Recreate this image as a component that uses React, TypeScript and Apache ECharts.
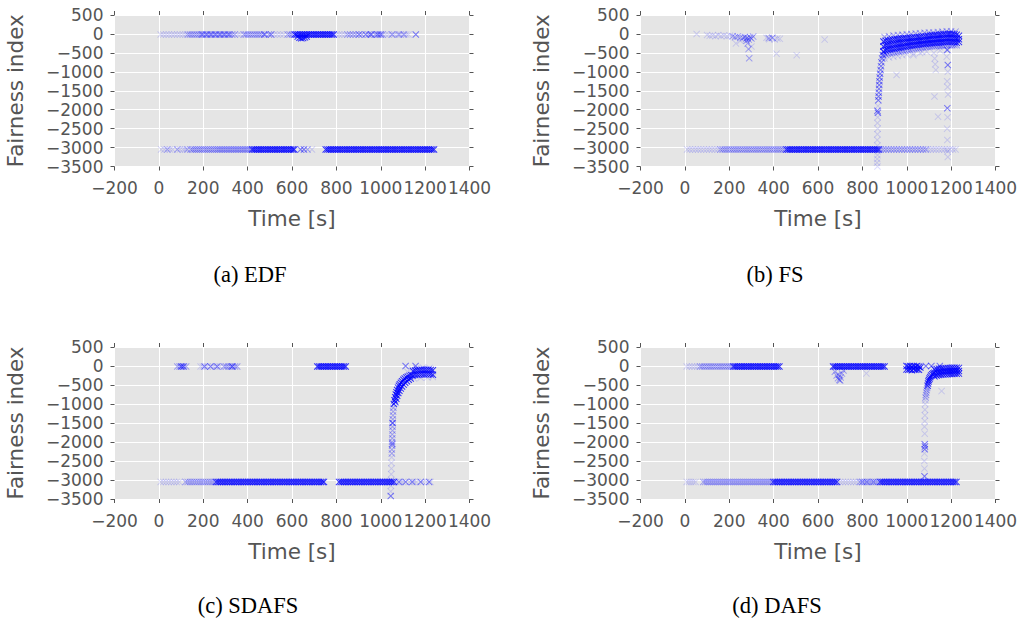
import React, { useEffect, useRef } from 'react';
import * as echarts from 'echarts';

const X_MIN = -200, X_MAX = 1400, X_STEP = 200;
const Y_MIN = -3500, Y_MAX = 500, Y_STEP = 500;
const CAPTIONS = ['(a) EDF', '(b) FS', '(c) SDAFS', '(d) DAFS'];
const X_NAME = 'Time [s]';
const Y_NAME = 'Fairness index';

const TOP = -15;
const BOT = -3050;

// ---------- (a) EDF ----------
const aTopLight = [8, 20, 33, 45, 58, 70, 83, 95, 108, 120, 356, 368, 520, 534, 548, 562, 800, 812, 825, 838, 1022, 1035, 1048, 1062, 1075, 1090, 1100, 1115, 1125];
const aTopMed = [130, 140, 150, 160, 170, 180, 190, 195, 200, 210, 215, 220, 230, 235, 240, 250, 255, 260, 270, 275, 280, 290, 295, 300, 310, 315, 320, 330, 342, 383, 392, 402, 412, 422, 432, 442, 452, 462, 480, 496, 580, 590, 600, 850, 862, 875, 888, 915, 945, 960, 975, 992, 1008, 1052, 1082, 1105];
const aTopMark = [474, 506, 902, 932, 955, 985, 1000, 1158];
const aTopDense = [612, 620, 628, 636, 644, 652, 660, 668, 676, 684, 692, 700, 708, 716, 724, 732, 740, 748, 756, 764, 772, 780, 788];
const aDip = [[626, -70], [634, -100], [642, -115], [650, -105], [658, -90], [666, -70]];
const aBotLight = [10, 25, 50, 62, 95, 108, 118, 690];
const aBotMed = [38, 83, 128, 143, 152, 161, 170, 179, 188, 197, 206, 215, 224, 233, 242, 251, 260, 268, 276, 284, 292, 300, 308, 316, 324, 332, 340, 348, 356, 364, 372, 380, 388, 396, 404, 412, 670];
const aBotMark = [639, 654];
const aBotDense = [420, 428, 436, 444, 452, 460, 468, 476, 484, 492, 500, 508, 516, 524, 532, 540, 548, 556, 564, 572, 580, 588, 596, 604, 610,
  752, 760, 768, 776, 784, 792, 800, 808, 816, 824, 832, 840, 848, 856, 864, 872, 880, 888, 896, 904, 912, 920, 928, 936, 944, 952, 960, 968, 976, 984, 992, 1000, 1008, 1016, 1024, 1032, 1040, 1048, 1056, 1064, 1072, 1080, 1088, 1096, 1104, 1112, 1120, 1128, 1136, 1144, 1152, 1160, 1168, 1176, 1184, 1192, 1200, 1208, 1216, 1224, 1232, 1240];

// ---------- (b) FS ----------
const bTopLight = [[53, 0], [100, -30], [112, -50], [125, -40], [138, -60], [150, -30], [163, -55], [176, -40], [190, -60], [203, -45], [230, -250], [250, -180], [300, -330], [368, -100], [380, -140], [392, -110], [405, -150], [417, -120], [428, -130], [413, -520], [504, -560], [630, -150], [954, -1084], [1141, -2184], [1030, -560], [1070, -480]];
const bTopMed = [[215, -60], [226, -85], [238, -70], [250, -95], [262, -110], [270, -80], [276, -130], [282, -100], [288, -150], [294, -90], [300, -120], [308, -70], [283, -250], [287, -400], [290, -640], [278, -180], [378, -110], [395, -100]];
const bBotLight = [10, 22, 35, 48, 60, 72, 85, 98, 110, 122, 135, 148, 1095, 1108, 1120, 1132, 1145, 1158, 1170, 1182, 1195, 1208, 1220];
const bBotMed = [160, 170, 180, 190, 200, 210, 220, 230, 240, 250, 260, 270, 280, 290, 300, 310, 320, 330, 340, 350, 360, 370, 380, 390, 400, 410, 420, 430, 440, 450, 882, 894, 906, 918, 930, 942, 954, 966, 978, 990, 1002, 1014, 1026, 1038, 1050, 1062, 1074, 1086];
const bBotDense = [458, 466, 474, 482, 490, 498, 506, 514, 522, 530, 538, 546, 554, 562, 570, 578, 586, 594, 602, 610, 618, 626, 634, 642, 650, 658, 666, 674, 682, 690, 698, 706, 714, 722, 730, 738, 746, 754, 762, 770, 778, 786, 794, 802, 810, 818, 826, 834, 842, 850, 858, 866, 874];
const bColumnLight = [[868, -3500], [866, -3400], [867, -3300], [868, -3200], [869, -3100], [868, -2950], [867, -2800], [868, -2650], [869, -2500], [868, -2350], [869, -2200], [870, -1900], [1122, -500], [1126, -650], [1128, -800], [1131, -950], [1125, -1650], [1180, -600], [1185, -1000], [1182, -1250], [1184, -1400], [1186, -1600], [1184, -2200], [1182, -2500], [1183, -2800], [1184, -3100], [1185, -3250], [1120, -300], [1150, -350]];
const bColumnMark = [[868, -2030], [870, -2080], [1183, -424], [1185, -820], [1183, -1960]];
const bColumnDense = [[872, -1750], [873, -1650], [874, -1550], [875, -1450], [876, -1350], [877, -1250], [878, -1150], [880, -1050], [882, -950], [884, -850], [886, -750], [889, -650], [892, -560], [896, -480]];
const bCluster = [
  [895, -200], [895, -330], [895, -460], [905, -180], [905, -310], [905, -440], [915, -170], [915, -300], [915, -420],
  [925, -160], [925, -290], [925, -410], [935, -150], [935, -280], [935, -400], [945, -140], [945, -270], [945, -390],
  [955, -135], [955, -260], [955, -380], [965, -130], [965, -250], [965, -370], [975, -120], [975, -240], [975, -360],
  [985, -115], [985, -230], [985, -345], [995, -110], [995, -225], [995, -335], [1005, -105], [1005, -220], [1005, -325],
  [1015, -100], [1015, -210], [1015, -315], [1025, -95], [1025, -200], [1025, -305], [1035, -90], [1035, -195], [1035, -300],
  [1045, -85], [1045, -190], [1045, -290], [1055, -80], [1055, -185], [1055, -280], [1065, -70], [1065, -175], [1065, -275],
  [1075, -65], [1075, -170], [1075, -270], [1085, -60], [1085, -165], [1085, -265], [1095, -50], [1095, -155], [1095, -255],
  [1105, -40], [1105, -150], [1105, -250], [1115, -35], [1115, -145], [1115, -245], [1125, -30], [1125, -140], [1125, -240],
  [1135, -25], [1135, -135], [1135, -235], [1145, -20], [1145, -130], [1145, -230], [1155, -15], [1155, -125], [1155, -225],
  [1165, -10], [1165, -120], [1165, -220], [1175, -5], [1175, -115], [1175, -215], [1185, 0], [1185, -110], [1185, -210],
  [1195, 5], [1195, -105], [1195, -205], [1205, 0], [1205, -110], [1205, -210], [1215, -10], [1215, -120], [1215, -220],
  [1225, -20], [1225, -130], [1225, -230], [1235, -50], [1235, -140], [1235, -210]];
const bClusterEdge = [[895, -560], [905, -540], [915, -520], [925, -510], [935, -500], [945, -490], [955, -480], [965, -470], [975, -460], [985, -450], [995, -440], [1005, -430], [1015, -420], [1025, -405], [1035, -395], [1045, -385], [1055, -375], [1065, -365], [1075, -355], [1085, -345], [1095, -340], [1105, -335], [1115, -330], [1125, -325], [1135, -320], [1145, -315], [1155, -310], [1165, -305], [1175, -300], [1185, -300], [1195, -300], [1205, -300], [1215, -300], [1225, -300],
  [900, -80], [920, -60], [940, -40], [960, -30], [980, -20], [1000, -10], [1020, 0], [1040, 10], [1060, 20], [1080, 30], [1100, 40], [1120, 40], [1140, 50], [1160, 60], [1180, 70], [1200, 70], [1220, 60]];
const bClusterLight = [[900, -650], [920, -620], [940, -600], [960, -580], [980, -560], [1000, -540], [1030, -520], [1060, -500], [1090, -470], [1150, -440], [1180, -420]];

// ---------- (c) SDAFS ----------
const cTopLight = [188, 198, 218, 245, 255, 275];
const cTopMed = [83, 93, 103, 113, 123, 293, 303, 313, 323, 333, 343, 353];
const cTopMark = [100, 110, 206, 233, 263, 330];
const cTopDense = [714, 722, 730, 738, 746, 754, 762, 770, 778, 786, 794, 802, 810, 818, 826, 834, 842];
const cPeakMark = [[1112, 0], [1157, 0], [1045, -3420], [1053, -1500], [1052, -2050]];
const cColumnLight = [[1045, -3300], [1046, -3150], [1047, -3000], [1047, -2850], [1048, -2700], [1048, -2550], [1049, -2400]];
const cColumnMed = [[1050, -2300], [1050, -2200], [1051, -2100], [1051, -2000], [1052, -1900], [1052, -1800], [1053, -1700], [1053, -1600], [1054, -1500], [1054, -1400], [1055, -1300], [1056, -1200], [1057, -1100]];
const cCurveDense = [[1059, -1000], [1062, -900], [1065, -820], [1068, -750], [1071, -690], [1074, -630], [1078, -570], [1082, -520], [1086, -480], [1091, -440], [1096, -400], [1102, -360], [1108, -330], [1115, -300], [1122, -280], [1130, -260], [1138, -245],
  [1066, -950], [1070, -860], [1074, -780], [1079, -710], [1084, -650], [1090, -590], [1096, -540], [1103, -490], [1110, -440], [1118, -400], [1126, -360], [1135, -330]];
const cCluster = [
  [1145, -130], [1145, -250], [1155, -120], [1155, -240], [1165, -110], [1165, -230], [1175, -105], [1175, -225], [1185, -100], [1185, -220],
  [1195, -100], [1195, -220], [1205, -100], [1205, -215], [1215, -100], [1215, -215], [1225, -105], [1225, -220], [1235, -110], [1235, -230]];
const cClusterLight = [[1120, -150], [1140, -80], [1160, -60], [1190, -40], [1220, -50], [1150, -330], [1180, -310], [1210, -300], [1235, -290]];
const cBotLight = [8, 20, 32, 44, 56, 68, 80, 92, 1070, 1090, 1100, 1130, 1150, 1160, 1190, 1205, 1224];
const cBotMark = [1082, 1112, 1142, 1180, 1218];
const cBotMed = [120, 130, 140, 150, 160, 170, 180, 190, 200, 210, 220, 230, 240, 250];
const cBotDense = [258, 266, 274, 282, 290, 298, 306, 314, 322, 330, 338, 346, 354, 362, 370, 378, 386, 394, 402, 410, 418, 426, 434, 442, 450, 458, 466, 474, 482, 490, 498, 506, 514, 522, 530, 538, 546, 554, 562, 570, 578, 586, 594, 602, 610, 618, 626, 634, 642, 650, 658, 666, 674, 682, 690, 698, 706, 714, 722, 730, 738, 744,
  812, 820, 828, 836, 844, 852, 860, 868, 876, 884, 892, 900, 908, 916, 924, 932, 940, 948, 956, 964, 972, 980, 988, 996, 1004, 1012, 1020, 1028, 1036, 1044, 1052, 1060];

// ---------- (d) DAFS ----------
const dTopLight = [8, 20, 32, 44, 56];
const dTopLightPts = [[818, -195], [1157, -660]];
const dTopMed = [68, 78, 88, 98, 108, 118, 128, 138, 148, 158, 168, 178, 188, 198, 208];
const dTopDense = [218, 226, 234, 242, 250, 258, 266, 274, 282, 290, 298, 306, 314, 322, 330, 338, 346, 354, 362, 370, 378, 386, 394, 402, 410, 418, 426,
  668, 676, 684, 692, 700, 708, 716, 724, 732, 740, 748, 756, 764, 772, 780, 788, 796, 804, 812, 820, 828, 836, 844, 852, 860, 868, 876, 884, 892, 900];
const dBlob = [[999, 0], [999, -90], [1007, -10], [1007, -100], [1015, 0], [1015, -90], [1023, -20], [1023, -110], [1031, 0], [1031, -80], [1039, -10], [1039, -100], [1047, 0], [1047, -90], [1055, -20], [1055, -100], [1061, -40]];
const dDip = [[676, -150], [684, -250], [690, -320], [696, -370], [702, -300], [708, -200], [715, -120], [694, -230], [700, -380]];
const dTopMark = [[1086, 0], [1111, 0], [1149, 0]];
const dColumnLight = [[1080, -2700], [1079, -2500], [1080, -2300], [1081, -1780], [1080, -1600], [1081, -1450], [1082, -1300], [1082, -1150], [1083, -1000], [1084, -900]];
const dColumnMark = [[1080, -2900], [1081, -2060], [1082, -2120], [1081, -2190]];
const dColumnMed = [[1085, -830], [1087, -760], [1088, -700], [1090, -640], [1092, -580]];
const dCurveDense = [[1094, -520], [1096, -460], [1098, -410], [1100, -370], [1103, -330], [1106, -290], [1110, -250], [1115, -220], [1120, -200]];
const dCluster = [
  [1125, -90], [1125, -180], [1125, -270], [1135, -80], [1135, -170], [1135, -250], [1145, -70], [1145, -160], [1145, -240], [1155, -65], [1155, -150], [1155, -230],
  [1165, -60], [1165, -145], [1165, -225], [1175, -55], [1175, -140], [1175, -220], [1185, -50], [1185, -135], [1185, -215], [1195, -50], [1195, -130], [1195, -210],
  [1205, -45], [1205, -130], [1205, -210], [1215, -45], [1215, -125], [1215, -205], [1225, -45], [1225, -125], [1225, -205], [1235, -50], [1235, -130], [1235, -200]];
const dBotLight = [8, 18, 28, 38, 48, 700, 712, 724, 736, 748, 760, 772, 784];
const dBotMed = [83, 92, 101, 110, 119, 128, 137, 146, 155, 164, 173, 182, 191, 200, 209, 218, 227, 236, 245, 254, 263, 272, 281, 290, 299, 308, 317, 326, 335, 344, 353, 362, 371, 380, 389, 790, 810, 830, 840, 860, 870];
const dBotMark = [800, 820, 850];
const dBotDense = [398, 406, 414, 422, 430, 438, 446, 454, 462, 470, 478, 486, 494, 502, 510, 518, 526, 534, 542, 550, 558, 566, 574, 582, 590, 598, 606, 614, 622, 630, 638, 646, 654, 662, 670, 678, 686,
  880, 888, 896, 904, 912, 920, 928, 936, 944, 952, 960, 968, 976, 984, 992, 1000, 1008, 1016, 1024, 1032, 1040, 1048, 1056, 1064, 1072, 1080, 1088, 1096, 1104, 1112, 1120, 1128, 1136, 1144, 1152, 1160, 1168, 1176, 1184, 1192, 1200, 1208, 1216, 1224];

const band = (xs: number[], y: number) => xs.map((x) => [x, y]);

const PANELS = [
  {
    light: [...band(aTopLight, TOP), ...band(aBotLight, BOT)],
    med: [...band(aTopMed, TOP), ...band(aBotMed, BOT)],
    mark: [...band(aTopMark, TOP), ...band(aBotMark, BOT)],
    dense: [...band(aTopDense, TOP), ...aDip, ...band(aBotDense, BOT)],
  },
  {
    light: [...bTopLight, ...band(bBotLight, BOT), ...bColumnLight, ...bClusterLight],
    med: [...bTopMed, ...band(bBotMed, BOT), ...bClusterEdge],
    mark: [...bColumnMark, ...bColumnDense],
    dense: [...band(bBotDense, BOT), ...bCluster],
  },
  {
    light: [...band(cTopLight, TOP), ...band(cBotLight, BOT), ...cColumnLight, ...cClusterLight],
    med: [...band(cTopMed, TOP), ...band(cBotMed, BOT), ...cColumnMed],
    mark: [...band(cTopMark, TOP), ...cPeakMark, ...band(cBotMark, BOT)],
    dense: [...band(cTopDense, TOP), ...cCurveDense, ...cCluster, ...band(cBotDense, BOT)],
  },
  {
    light: [...band(dTopLight, TOP), ...dTopLightPts, ...dColumnLight, ...band(dBotLight, BOT)],
    med: [...band(dTopMed, TOP), ...dDip, ...dColumnMed, ...band(dBotMed, BOT)],
    mark: [...dTopMark, ...dColumnMark, ...band(dBotMark, BOT)],
    dense: [...band(dTopDense, TOP), ...dBlob, ...dCurveDense, ...dCluster, ...band(dBotDense, BOT)],
  },
];

const LEVELS: [string, number][] = [['light', 0.14], ['med', 0.32], ['mark', 0.5], ['dense', 0.8]];

const GRIDS = [
  { left: 114.5, top: 15, width: 355, height: 151.5 },
  { left: 640.5, top: 15, width: 355, height: 151.5 },
  { left: 114.5, top: 347, width: 355, height: 152 },
  { left: 640.5, top: 347, width: 355, height: 152 },
];
const CAP_POS = [[250, 274], [775, 274], [248, 605], [777, 605]];

const XMARK = 'path://M0,1L1,0L5,4L9,0L10,1L6,5L10,9L9,10L5,6L1,10L0,9L4,5Z';
const GREY = '#555555';
const FONT = 'DejaVu Sans';
const fmt = (v: number) => (v < 0 ? '\u2212' + Math.abs(v) : String(v));

export default function App() {
  const ref = useRef<HTMLDivElement>(null);
  useEffect(() => {
    if (!ref.current) return;
    const chart = echarts.init(ref.current, undefined, { renderer: 'svg' });
    const tick = { show: true, length: 4, lineStyle: { color: GREY, width: 1 } };
    const xAxis: any[] = [];
    const yAxis: any[] = [];
    const series: any[] = [];
    GRIDS.forEach((_, p) => {
      xAxis.push({
        gridIndex: p, type: 'value', position: 'bottom', min: X_MIN, max: X_MAX, interval: X_STEP,
        axisLine: { show: false, onZero: false }, axisTick: tick,
        axisLabel: { color: GREY, fontSize: 17, fontFamily: FONT, margin: 13, formatter: fmt },
        splitLine: { show: true, lineStyle: { color: '#ffffff', width: 1 } },
        name: X_NAME, nameLocation: 'middle', nameGap: 41,
        nameTextStyle: { color: GREY, fontSize: 21.5, fontFamily: FONT },
      });
      xAxis.push({
        gridIndex: p, type: 'value', position: 'top', min: X_MIN, max: X_MAX, interval: X_STEP,
        axisLine: { show: false, onZero: false }, axisTick: tick, axisLabel: { show: false }, splitLine: { show: false },
      });
      yAxis.push({
        gridIndex: p, type: 'value', position: 'left', min: Y_MIN, max: Y_MAX, interval: Y_STEP,
        axisLine: { show: false, onZero: false }, axisTick: tick,
        axisLabel: { color: GREY, fontSize: 17, fontFamily: FONT, margin: 11, formatter: fmt },
        splitLine: { show: true, lineStyle: { color: '#ffffff', width: 1 } },
        name: Y_NAME, nameLocation: 'middle', nameGap: 88,
        nameTextStyle: { color: GREY, fontSize: 21.5, fontFamily: FONT },
      });
      yAxis.push({
        gridIndex: p, type: 'value', position: 'right', min: Y_MIN, max: Y_MAX, interval: Y_STEP,
        axisLine: { show: false, onZero: false }, axisTick: tick, axisLabel: { show: false }, splitLine: { show: false },
      });
      const panel: any = PANELS[p];
      LEVELS.forEach(([key, alpha]) => {
        series.push({
          type: 'scatter', xAxisIndex: p * 2, yAxisIndex: p * 2,
          symbol: XMARK, symbolSize: 7, progressive: 0, silent: true,
          itemStyle: { color: '#0000ff', opacity: alpha },
          data: panel[key],
        });
      });
    });
    chart.setOption({
      animation: false,
      backgroundColor: '#ffffff',
      grid: GRIDS.map((g) => ({ ...g, show: true, backgroundColor: '#E5E5E5', borderWidth: 0 })),
      xAxis, yAxis, series,
      graphic: CAPTIONS.map((t, i) => ({
        type: 'text', x: CAP_POS[i][0], y: CAP_POS[i][1],
        style: { text: t, fontSize: 22.5, fontFamily: 'Liberation Serif', fill: '#000000', align: 'center', verticalAlign: 'middle' },
      })),
    });
    return () => chart.dispose();
  }, []);
  return <div ref={ref} style={{ position: 'fixed', left: 0, top: 0, width: 1028, height: 621 }} />;
}
